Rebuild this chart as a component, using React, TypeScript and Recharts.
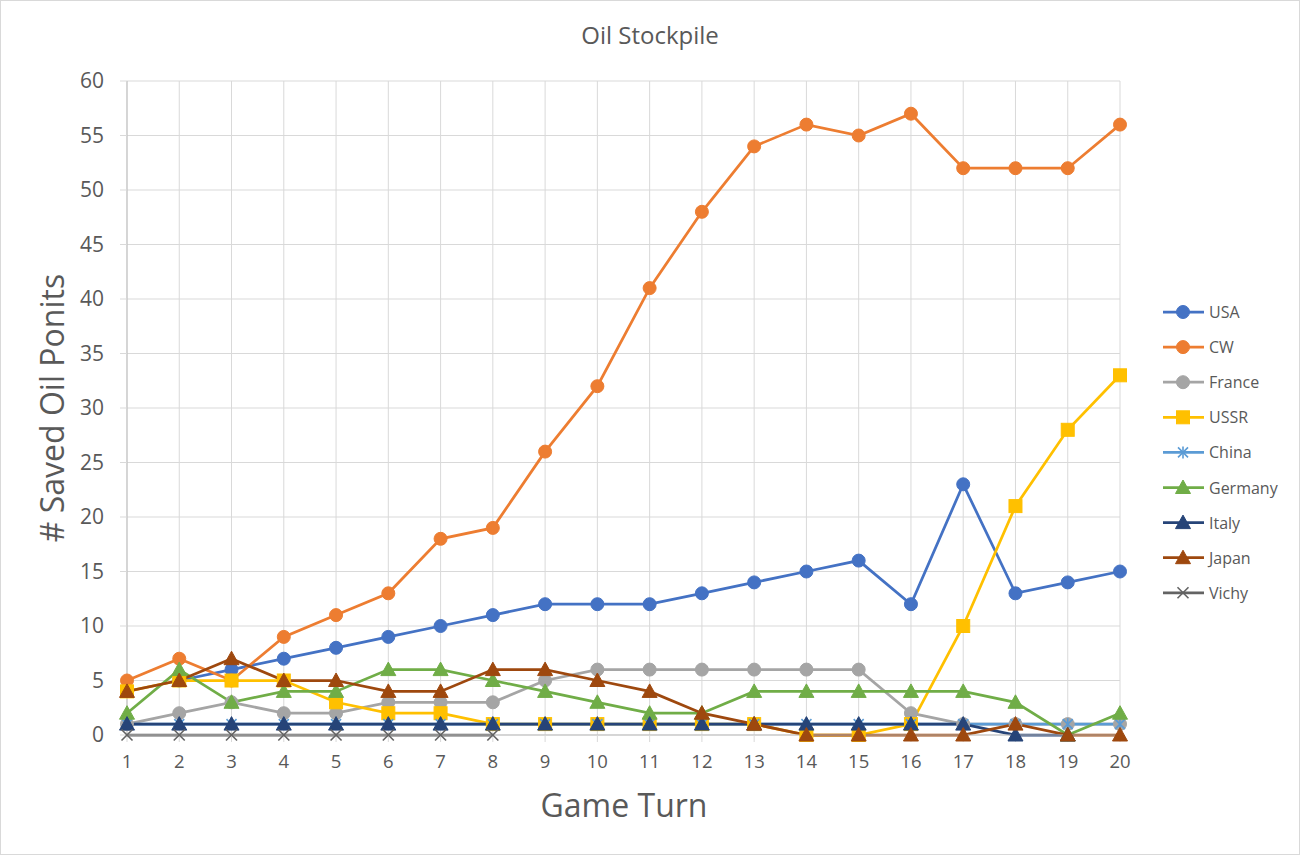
// Oil Stockpile — saved oil points per nation over 20 game turns.
import { LineChart, Line, XAxis, YAxis, CartesianGrid } from 'recharts';

// ─── Data ─────────────────────────────────────────────────────────────────────

const turns = [1, 2, 3, 4, 5, 6, 7, 8, 9, 10, 11, 12, 13, 14, 15, 16, 17, 18, 19, 20];

const usa     = [null, 5, 6, 7, 8, 9, 10, 11, 12, 12, 12, 13, 14, 15, 16, 12, 23, 13, 14, 15];
const cw      = [5, 7, 5, 9, 11, 13, 18, 19, 26, 32, 41, 48, 54, 56, 55, 57, 52, 52, 52, 56];
const france  = [1, 2, 3, 2, 2, 3, 3, 3, 5, 6, 6, 6, 6, 6, 6, 2, 1, 1, 1, 1];
const ussr    = [4, 5, 5, 5, 3, 2, 2, 1, 1, 1, 1, 1, 1, 0, 0, 1, 10, 21, 28, 33];
const china   = [1, 1, 1, 1, 1, 1, 1, 1, 1, 1, 1, 1, 1, 1, 1, 1, 1, 1, 1, 1];
const germany = [2, 6, 3, 4, 4, 6, 6, 5, 4, 3, 2, 2, 4, 4, 4, 4, 4, 3, 0, 2];
const italy   = [1, 1, 1, 1, 1, 1, 1, 1, 1, 1, 1, 1, 1, 1, 1, 1, 1, 0, 0, null];
const japan   = [4, 5, 7, 5, 5, 4, 4, 6, 6, 5, 4, 2, 1, 0, 0, 0, 0, 1, 0, 0];
const vichy   = [0, 0, 0, 0, 0, 0, 0, 0, null, null, null, null, null, null, null, null, null, null, null, null];

const yTicks = [0, 5, 10, 15, 20, 25, 30, 35, 40, 45, 50, 55, 60];

type Shape = 'circle' | 'square' | 'triangle' | 'star' | 'x';

const series: { key: string; name: string; color: string; shape: Shape; values: (number | null)[] }[] = [
  { key: 'usa',     name: 'USA',     color: '#4472C4', shape: 'circle',   values: usa },
  { key: 'cw',      name: 'CW',      color: '#ED7D31', shape: 'circle',   values: cw },
  { key: 'france',  name: 'France',  color: '#A5A5A5', shape: 'circle',   values: france },
  { key: 'ussr',    name: 'USSR',    color: '#FFC000', shape: 'square',   values: ussr },
  { key: 'china',   name: 'China',   color: '#5B9BD5', shape: 'star',     values: china },
  { key: 'germany', name: 'Germany', color: '#70AD47', shape: 'triangle', values: germany },
  { key: 'italy',   name: 'Italy',   color: '#264478', shape: 'triangle', values: italy },
  { key: 'japan',   name: 'Japan',   color: '#9E480E', shape: 'triangle', values: japan },
  { key: 'vichy',   name: 'Vichy',   color: '#636363', shape: 'x',        values: vichy },
];

const chartData = turns.map((t, i) => {
  const row: Record<string, number | null> = { turn: t };
  series.forEach((s) => { row[s.key] = s.values[i]; });
  return row;
});

// ─── Markers ──────────────────────────────────────────────────────────────────

const FONT = '"Open Sans", "Noto Sans", sans-serif';
const TEXT = '#595959';

function Marker({ cx, cy, shape, color }: { cx: number; cy: number; shape: Shape; color: string }) {
  switch (shape) {
    case 'circle':
      return <circle cx={cx} cy={cy} r={6.5} fill={color} stroke={color} strokeWidth={1} />;
    case 'square':
      return <rect x={cx - 6.5} y={cy - 6.5} width={13} height={13} fill={color} stroke={color} />;
    case 'triangle':
      return (
        <polygon
          points={`${cx},${cy - 7.5} ${cx - 7.5},${cy + 6} ${cx + 7.5},${cy + 6}`}
          fill={color}
          stroke={color}
        />
      );
    case 'star':
      return (
        <g stroke={color} strokeWidth={1.6}>
          <line x1={cx - 5} y1={cy - 5} x2={cx + 5} y2={cy + 5} />
          <line x1={cx - 5} y1={cy + 5} x2={cx + 5} y2={cy - 5} />
          <line x1={cx} y1={cy - 6} x2={cx} y2={cy + 6} />
        </g>
      );
    default:
      return (
        <g stroke={color} strokeWidth={1.6}>
          <line x1={cx - 5.5} y1={cy - 5.5} x2={cx + 5.5} y2={cy + 5.5} />
          <line x1={cx - 5.5} y1={cy + 5.5} x2={cx + 5.5} y2={cy - 5.5} />
        </g>
      );
  }
}

const dotFor = (name: string, shape: Shape, color: string) => (p: any) => {
  const k = `${name}-${p.index}`;
  if (p.cx == null || p.cy == null || p.value == null) return <g key={k} />;
  return (
    <g key={k}>
      <Marker cx={p.cx} cy={p.cy} shape={shape} color={color} />
    </g>
  );
};

// ─── Chart ────────────────────────────────────────────────────────────────────

export default function App() {
  return (
    <div style={{ position: 'absolute', left: 0, top: 0, width: 1300, height: 855, background: '#fff' }}>
      <LineChart
        width={1300}
        height={855}
        data={chartData}
        margin={{ top: 81, right: 180, bottom: 80, left: 0 }}
      >
        <CartesianGrid stroke="#d9d9d9" strokeWidth={1} />
        <XAxis
          dataKey="turn"
          interval={0}
          height={40}
          tickSize={7}
          tickMargin={13}
          tickLine={{ stroke: '#d9d9d9' }}
          axisLine={{ stroke: '#bfbfbf' }}
          tick={{ fill: TEXT, fontSize: 18.5, fontFamily: FONT }}
        />
        <YAxis
          domain={[0, 60]}
          ticks={yTicks}
          interval={0}
          width={127}
          tickSize={7}
          tickMargin={16}
          tickLine={{ stroke: '#d9d9d9' }}
          axisLine={{ stroke: '#bfbfbf' }}
          tick={{ fill: TEXT, fontSize: 21, fontFamily: FONT }}
        />
        {series.map((s) => (
          <Line
            key={s.key}
            dataKey={s.key}
            name={s.name}
            stroke={s.color}
            strokeWidth={2.75}
            dot={dotFor(s.key, s.shape, s.color)}
            activeDot={false}
            isAnimationActive={false}
          />
        ))}
      </LineChart>

      {/* titles and legend */}
      <svg
        width={1300}
        height={855}
        style={{ position: 'absolute', left: 0, top: 0, pointerEvents: 'none' }}
      >
        <rect x={0.5} y={0.5} width={1299} height={854} fill="none" stroke="#d9d9d9" />
        <text x={650} y={44} textAnchor="middle" fontSize={24} fill={TEXT} fontFamily={FONT}>
          Oil Stockpile
        </text>
        <text
          x={0}
          y={0}
          transform="translate(64, 408) rotate(-90)"
          textAnchor="middle"
          fontSize={32}
          fill={TEXT}
          fontFamily={FONT}
        >
          # Saved Oil Ponits
        </text>
        <text x={624} y={817} textAnchor="middle" fontSize={32} fill={TEXT} fontFamily={FONT}>
          Game Turn
        </text>
        {series.map((s, i) => {
          const y = 312 + i * 35.1;
          return (
            <g key={s.key}>
              <line x1={1163} y1={y} x2={1204} y2={y} stroke={s.color} strokeWidth={2.75} />
              <Marker cx={1183} cy={y} shape={s.shape} color={s.color} />
              <text x={1209} y={y + 6} fontSize={16} fill={TEXT} fontFamily={FONT}>
                {s.name}
              </text>
            </g>
          );
        })}
      </svg>
    </div>
  );
}
